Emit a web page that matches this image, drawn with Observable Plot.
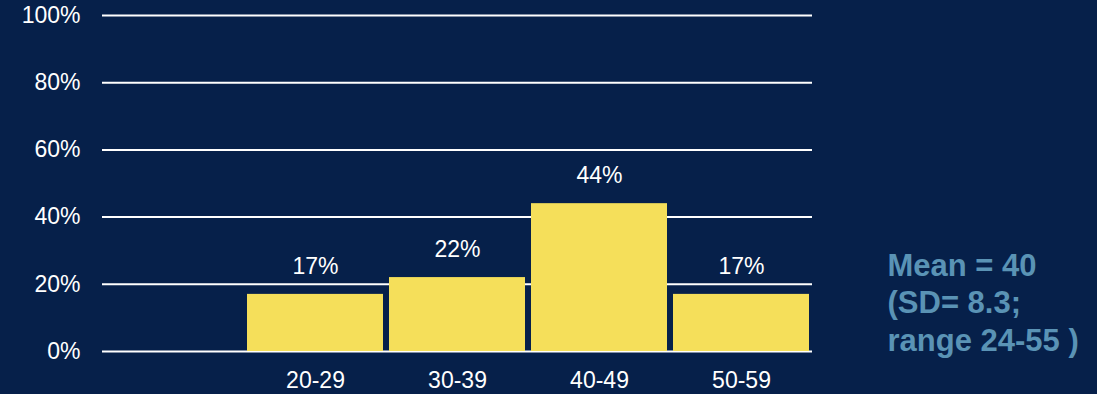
<!DOCTYPE html>
<html>
<head>
<meta charset="utf-8">
<script src="https://cdn.jsdelivr.net/npm/d3@7"></script>
<script src="https://cdn.jsdelivr.net/npm/@observablehq/plot@0.6"></script>
<style>
  html, body { margin: 0; padding: 0; background: #06204a; }
  #chart { width: 1097px; height: 394px; overflow: hidden; }
</style>
</head>
<body>
<div id="chart"></div>
<script>
const categories = ["", "20-29", "30-39", "40-49", "50-59"];
const ageGroups = ["20-29", "30-39", "40-49", "50-59"];
const percents = [17, 22, 44, 17];
const yTicks = [0, 20, 40, 60, 80, 100];
const noteLines = ["Mean = 40", "(SD= 8.3;", "range 24-55 )"];

const data = ageGroups.map((g, i) => ({group: g, value: percents[i]}));
const font = "Liberation Sans, Arial, sans-serif";

const chart = Plot.plot({
  width: 1097,
  height: 394,
  marginLeft: 102,
  marginRight: 285,
  marginTop: 15,
  marginBottom: 43,
  style: {background: "#06204a", color: "#ffffff", fontFamily: font, fontSize: "23px"},
  x: {domain: categories, paddingInner: 0.042, paddingOuter: 0.021, label: null},
  y: {domain: [0, 100], label: null},
  marks: [
    Plot.ruleY(yTicks, {stroke: "#ffffff", strokeWidth: 2, strokeOpacity: 1}),
    Plot.barY(data, {x: "group", y: "value", fill: "#f5df5a"}),
    Plot.axisX({tickSize: 0, tickPadding: 20, fontSize: 23, fill: "#ffffff", label: null}),
    Plot.axisY({ticks: yTicks, tickFormat: d => d + "%", tickSize: 0, tickPadding: 22, fontSize: 23, fill: "#ffffff", label: null}),
    Plot.text(data, {x: "group", y: "value", text: d => d.value + "%", dy: -28, fill: "#ffffff", fontSize: 23}),
    Plot.text([noteLines.join("\n")], {frameAnchor: "right", dx: 75, dy: 118, textAnchor: "start", lineHeight: 1.2, fill: "#5a93b5", fontSize: 31, fontWeight: "bold"})
  ]
});
document.getElementById("chart").appendChild(chart);
</script>
</body>
</html>
